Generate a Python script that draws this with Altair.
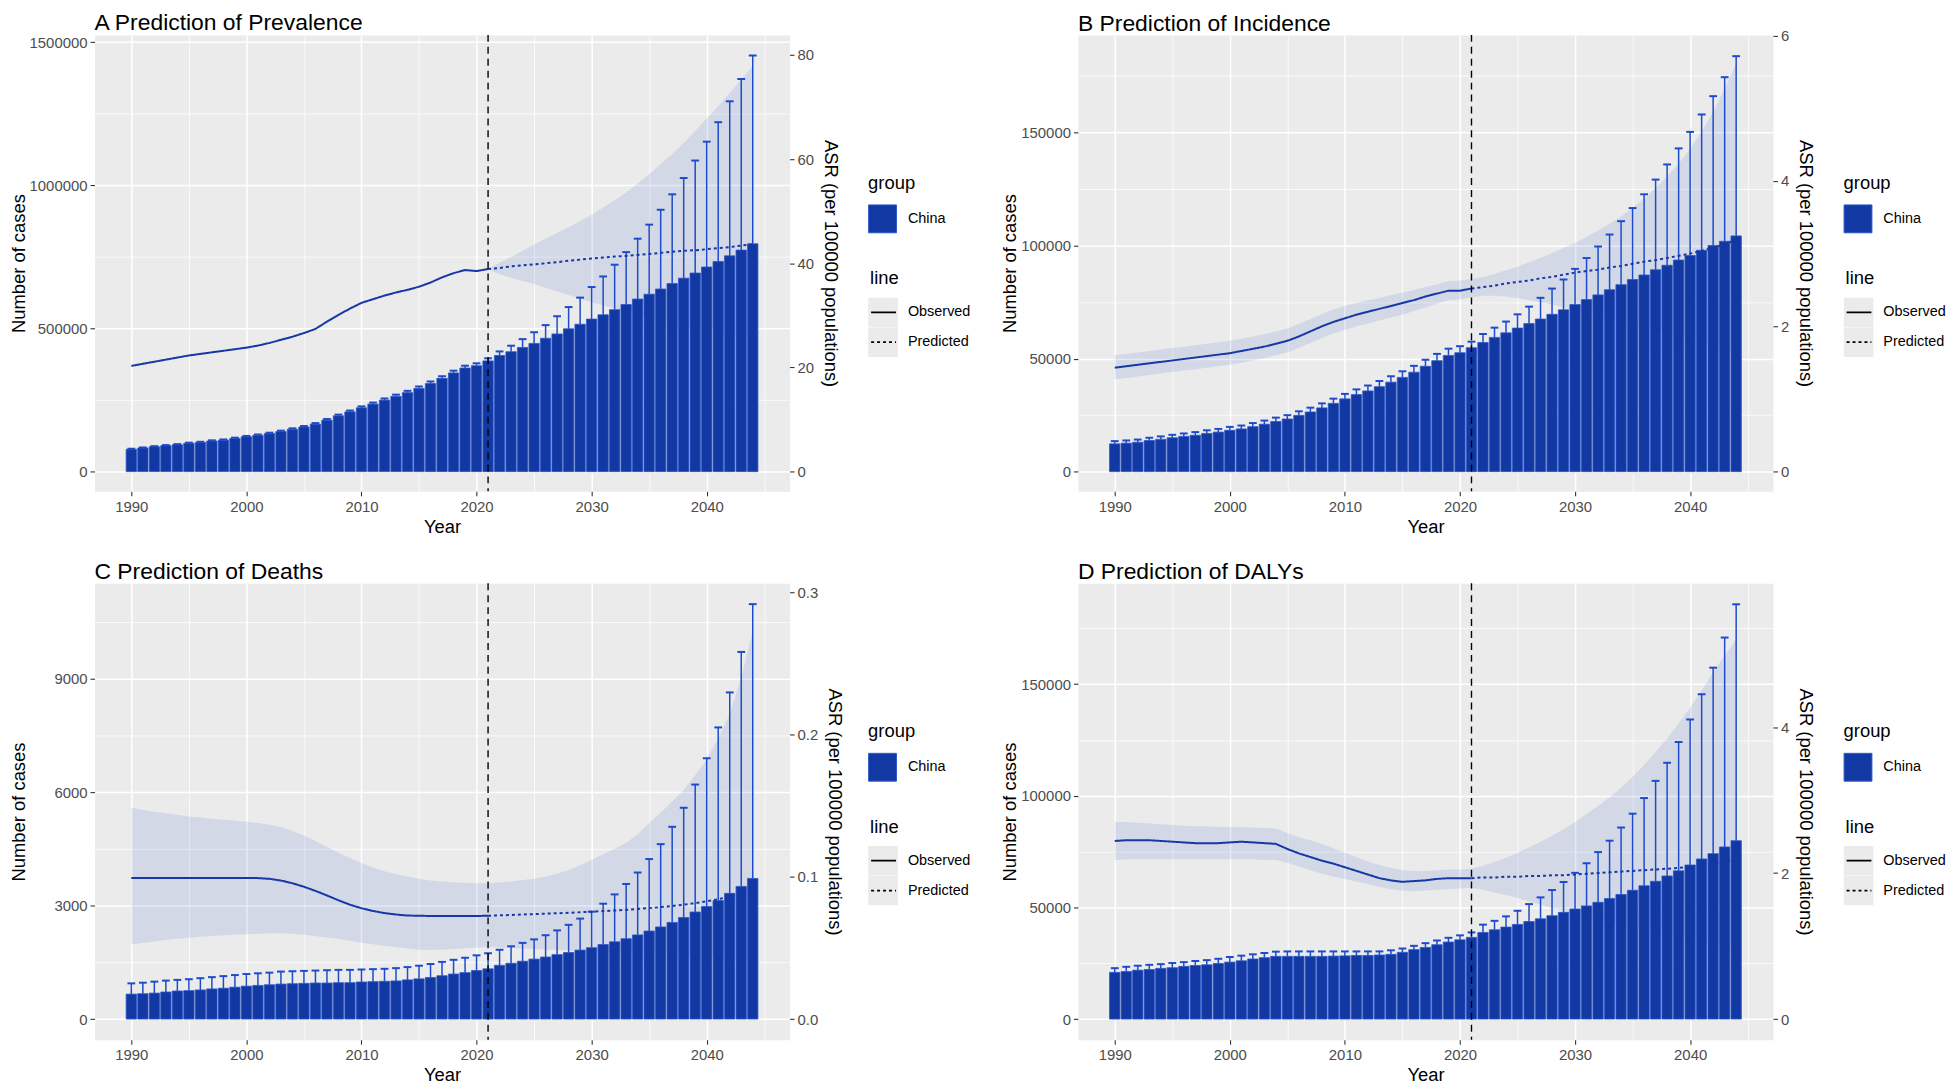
import altair as alt
import pandas as pd

# ---------------- data ----------------
years = list(range(1990, 2045))
obs_years = list(range(1990, 2022))
pred_years = list(range(2021, 2045))
split_year = 2021

# Panel A: Prevalence
A_cases = [78000, 82600, 87000, 90700, 94000, 99000, 102000, 107000, 110000, 116000,
           122000, 127000, 133000, 140000, 148000, 156000, 166000, 180000, 195000, 209000,
           223000, 236000, 250000, 263000, 276000, 291000, 308000, 326000, 345000, 362000,
           370000, 387000, 406000, 419000, 434000, 448000, 466000, 481000, 499000, 515000,
           533000, 548000, 566000, 584000, 603000, 620000, 638000, 657000, 676000, 694000,
           715000, 734000, 754000, 774000, 796000]
A_upper = [80000, 84500, 89000, 92800, 96200, 101200, 104300, 109400, 112500, 118600,
           124700, 129800, 136000, 143200, 151300, 159500, 169700, 184000, 199300, 213600,
           228000, 241300, 255700, 269000, 282300, 297600, 315000, 333400, 352800, 370200,
           378500, 396000, 420000, 440000, 463000, 487000, 512000, 543000, 575000, 608000,
           645000, 682000, 723000, 767000, 814000, 863000, 915000, 969000, 1026000, 1087000,
           1153000, 1221000, 1294000, 1372000, 1454000]
A_obs = [20.3, 20.7, 21.1, 21.5, 21.9, 22.3, 22.6, 22.9, 23.2, 23.5,
         23.8, 24.2, 24.7, 25.3, 25.9, 26.6, 27.4, 28.8, 30.1, 31.3,
         32.4, 33.1, 33.8, 34.4, 34.9, 35.5, 36.3, 37.3, 38.1, 38.7, 38.5, 38.9]
A_pred = [38.9, 39.1, 39.4, 39.6, 39.8, 40.0, 40.2, 40.5, 40.7, 40.9, 41.1, 41.3,
          41.4, 41.6, 41.8, 42.0, 42.2, 42.4, 42.5, 42.7, 42.9, 43.1, 43.4, 43.6]
A_pred_hi = [38.9, 40.1, 41.2, 42.4, 43.6, 44.7, 45.8, 46.9, 48.1, 49.3, 50.7, 52.1,
             53.6, 55.3, 57.1, 59.0, 61.0, 63.1, 65.4, 67.8, 70.2, 72.7, 75.3, 77.9]
A_pred_lo = [38.9, 37.9, 37.2, 36.6, 36.0, 35.3, 34.6, 33.9, 33.2, 32.5, 31.9, 31.3,
             30.7, 30.1, 29.6, 29.1, 28.6, 28.1, 27.6, 27.2, 26.8, 26.4, 26.0, 25.6]

# Panel B: Incidence
B_cases = [12300, 12600, 13000, 13800, 14300, 15000, 15600, 16100, 16900, 17500,
           18300, 18900, 19900, 21000, 22200, 23300, 24900, 26400, 28200, 30200,
           32200, 34100, 35700, 37600, 39600, 41700, 44000, 46600, 49100, 51400,
           52600, 54800, 57100, 59400, 61400, 63500, 65500, 67500, 69600, 71600,
           73900, 76100, 78200, 80500, 82700, 85000, 87000, 89300, 91300, 93600,
           95600, 97900, 100000, 101900, 104300]
B_upper = [13500, 13800, 14200, 15000, 15600, 16300, 16900, 17500, 18300, 18900,
           19800, 20400, 21500, 22600, 23900, 25000, 26700, 28300, 30200, 32300,
           34400, 36400, 38100, 40100, 42200, 44400, 46800, 49500, 52100, 54400,
           55500, 57500, 60900, 63700, 66400, 69600, 73000, 76900, 81000, 85000,
           89700, 94500, 99600, 104900, 110800, 116600, 122700, 129200, 135900, 143000,
           150300, 158000, 166100, 174500, 183800]
B_obs = [1.43, 1.45, 1.47, 1.49, 1.51, 1.53, 1.55, 1.57, 1.59, 1.61,
         1.63, 1.66, 1.69, 1.72, 1.76, 1.80, 1.86, 1.93, 2.00, 2.06,
         2.11, 2.16, 2.20, 2.24, 2.28, 2.32, 2.36, 2.41, 2.45, 2.49, 2.49, 2.52]
B_obs_hi = [1.60, 1.62, 1.64, 1.66, 1.68, 1.70, 1.72, 1.74, 1.76, 1.78,
            1.80, 1.83, 1.86, 1.89, 1.93, 1.97, 2.03, 2.10, 2.17, 2.23,
            2.28, 2.32, 2.36, 2.39, 2.43, 2.46, 2.50, 2.54, 2.58, 2.62, 2.63, 2.65]
B_obs_lo = [1.27, 1.29, 1.31, 1.33, 1.35, 1.37, 1.39, 1.41, 1.43, 1.45,
            1.47, 1.50, 1.53, 1.56, 1.60, 1.64, 1.70, 1.77, 1.84, 1.90,
            1.95, 2.00, 2.04, 2.08, 2.12, 2.16, 2.21, 2.26, 2.31, 2.36, 2.37, 2.40]
B_pred = [2.52, 2.54, 2.56, 2.59, 2.61, 2.63, 2.66, 2.68, 2.71, 2.74, 2.76, 2.78,
          2.81, 2.83, 2.86, 2.89, 2.91, 2.94, 2.97, 3.00, 3.04, 3.08, 3.13, 3.19]
B_pred_hi = [2.65, 2.68, 2.72, 2.77, 2.82, 2.88, 2.94, 3.01, 3.08, 3.15, 3.23, 3.32,
             3.41, 3.51, 3.63, 3.76, 3.90, 4.06, 4.24, 4.44, 4.68, 4.95, 5.27, 5.62]
B_pred_lo = [2.40, 2.42, 2.42, 2.41, 2.39, 2.36, 2.33, 2.30, 2.26, 2.22, 2.18, 2.14,
             2.10, 2.06, 2.02, 1.98, 1.94, 1.90, 1.86, 1.82, 1.78, 1.74, 1.70, 1.66]

# Panel C: Deaths
C_cases = [660, 670, 687, 715, 742, 752, 770, 797, 816, 843,
           871, 889, 907, 926, 935, 944, 953, 953, 962, 962,
           981, 990, 999, 1008, 1036, 1063, 1100, 1146, 1191, 1228,
           1283, 1329, 1421, 1476, 1530, 1586, 1641, 1705, 1760, 1824,
           1888, 1970, 2044, 2126, 2227, 2328, 2438, 2557, 2685, 2832,
           2979, 3134, 3327, 3510, 3721]
C_upper = [944, 962, 990, 1017, 1036, 1054, 1081, 1109, 1136, 1164,
           1191, 1210, 1228, 1256, 1265, 1274, 1283, 1292, 1301, 1301,
           1311, 1320, 1329, 1347, 1375, 1411, 1457, 1512, 1567, 1622,
           1686, 1741, 1833, 1925, 2016, 2108, 2218, 2346, 2493, 2658,
           2841, 3052, 3299, 3574, 3877, 4234, 4628, 5087, 5591, 6205,
           6901, 7717, 8643, 9715, 10980]
C_obs = [0.0991, 0.0991, 0.0991, 0.0991, 0.0991, 0.0991, 0.0991, 0.0991, 0.0991, 0.0991,
         0.0991, 0.0991, 0.0986, 0.0974, 0.0955, 0.0930, 0.0901, 0.0869, 0.0835, 0.0804,
         0.0779, 0.0760, 0.0745, 0.0735, 0.0728, 0.0726, 0.0725, 0.0725, 0.0725, 0.0725,
         0.0725, 0.0726]
C_obs_hi = [0.1485, 0.1470, 0.1458, 0.1447, 0.1436, 0.1425, 0.1417, 0.1409, 0.1402, 0.1395,
            0.1388, 0.1378, 0.1366, 0.1350, 0.1322, 0.1290, 0.1252, 0.1212, 0.1170, 0.1132,
            0.1096, 0.1065, 0.1040, 0.1020, 0.1002, 0.0986, 0.0975, 0.0967, 0.0962, 0.0958,
            0.0955, 0.0954]
C_obs_lo = [0.0524, 0.0535, 0.0545, 0.0555, 0.0564, 0.0572, 0.0578, 0.0584, 0.0589, 0.0593,
            0.0597, 0.0600, 0.0603, 0.0604, 0.0600, 0.0592, 0.0583, 0.0574, 0.0565, 0.0550,
            0.0536, 0.0526, 0.0516, 0.0506, 0.0496, 0.0487, 0.0485, 0.0487, 0.0492, 0.0497,
            0.0502, 0.0506]
C_pred = [0.0726, 0.0729, 0.0732, 0.0735, 0.0738, 0.0741, 0.0744, 0.0747, 0.0751, 0.0755,
          0.0759, 0.0763, 0.0768, 0.0774, 0.0780, 0.0787, 0.0795, 0.0804, 0.0815, 0.0828,
          0.0843, 0.0860, 0.0880, 0.0905]
C_pred_hi = [0.0954, 0.0960, 0.0968, 0.0977, 0.0986, 0.1003, 0.1024, 0.1047, 0.1082, 0.1120,
             0.1158, 0.1198, 0.1240, 0.1300, 0.1376, 0.1450, 0.1530, 0.1610, 0.1715, 0.1826,
             0.1975, 0.2143, 0.2400, 0.2727]
C_pred_lo = [0.0506, 0.0503, 0.0499, 0.0496, 0.0493, 0.0489, 0.0486, 0.0482, 0.0479, 0.0475,
             0.0471, 0.0467, 0.0463, 0.0459, 0.0455, 0.0451, 0.0447, 0.0443, 0.0439, 0.0435,
             0.0431, 0.0427, 0.0423, 0.0419]

# Panel D: DALYs
D_cases = [20900, 21300, 21900, 22200, 22700, 23000, 23600, 24000, 24300, 24900,
           25500, 26100, 26900, 27500, 28100, 28100, 28100, 28100, 28100, 28200,
           28300, 28500, 28500, 28700, 29000, 29900, 31100, 32100, 33300, 34500,
           35500, 36600, 38800, 40000, 41200, 42400, 43700, 44900, 46300, 47800,
           49300, 50700, 52300, 54000, 55800, 57700, 59700, 61700, 64100, 66400,
           69000, 71700, 74100, 77100, 79900]
D_upper = [22800, 23400, 23900, 24300, 24600, 25100, 25500, 26000, 26400, 27000,
           27800, 28400, 29000, 29600, 30200, 30300, 30300, 30300, 30300, 30300,
           30300, 30300, 30300, 30300, 30800, 31600, 32800, 34000, 35200, 36400,
           37500, 38800, 42300, 44000, 46000, 48500, 51500, 54500, 57800, 61400,
           65500, 69800, 74800, 79900, 85800, 92000, 99000, 106700, 114800, 124100,
           134200, 145500, 157400, 170900, 185800]
D_obs = [2.44, 2.45, 2.45, 2.45, 2.44, 2.43, 2.42, 2.41, 2.41, 2.41,
         2.42, 2.43, 2.42, 2.41, 2.40, 2.33, 2.27, 2.22, 2.17, 2.13,
         2.08, 2.03, 1.98, 1.93, 1.90, 1.88, 1.89, 1.90, 1.92, 1.93, 1.93, 1.93]
D_obs_hi = [2.70, 2.70, 2.69, 2.68, 2.67, 2.66, 2.65, 2.64, 2.64, 2.63,
            2.63, 2.63, 2.62, 2.62, 2.61, 2.55, 2.49, 2.45, 2.40, 2.34,
            2.28, 2.22, 2.16, 2.11, 2.07, 2.04, 2.03, 2.03, 2.04, 2.05, 2.05, 2.06]
D_obs_lo = [2.18, 2.19, 2.19, 2.19, 2.19, 2.19, 2.19, 2.19, 2.19, 2.19,
            2.19, 2.19, 2.19, 2.18, 2.18, 2.14, 2.09, 2.04, 1.99, 1.95,
            1.92, 1.88, 1.85, 1.81, 1.78, 1.76, 1.75, 1.76, 1.77, 1.78, 1.79, 1.80]
D_pred = [1.93, 1.94, 1.94, 1.95, 1.95, 1.96, 1.96, 1.97, 1.97, 1.98, 1.99, 2.00,
          2.01, 2.02, 2.03, 2.04, 2.05, 2.06, 2.07, 2.09, 2.11, 2.13, 2.16, 2.19]
D_pred_hi = [2.06, 2.10, 2.15, 2.21, 2.28, 2.35, 2.43, 2.51, 2.60, 2.70, 2.81, 2.92,
             3.04, 3.17, 3.32, 3.48, 3.66, 3.84, 4.05, 4.27, 4.50, 4.75, 4.98, 5.20]
D_pred_lo = [1.80, 1.77, 1.73, 1.70, 1.66, 1.61, 1.57, 1.52, 1.48, 1.44, 1.40, 1.36,
             1.32, 1.28, 1.25, 1.22, 1.19, 1.16, 1.13, 1.10, 1.07, 1.04, 1.01, 0.98]

# axis ticks
X_MAJOR = [1990, 2000, 2010, 2020, 2030, 2040]
X_MINOR = [1995, 2005, 2015, 2025, 2035, 2045]
A_left_major = [0, 500000, 1000000, 1500000]
A_left_minor = [250000, 750000, 1250000]
A_right = [0, 20, 40, 60, 80]
B_left_major = [0, 50000, 100000, 150000]
B_left_minor = [25000, 75000, 125000, 175000]
B_right = [0, 2, 4, 6]
C_left_major = [0, 3000, 6000, 9000]
C_left_minor = [1500, 4500, 7500, 10500]
C_right = [0.0, 0.1, 0.2, 0.3]
D_left_major = [0, 50000, 100000, 150000]
D_left_minor = [25000, 75000, 125000, 175000]
D_right = [0, 2, 4]

# ---------------- style ----------------
FONT = "Liberation Sans"
BAR_FILL = "#1239a3"
BAR_EDGE = "#2c56c9"
ERR = "#1d4bcc"
LINE = "#1737a6"
RIBBON = "#2355c1"
PANEL_BG = "#EBEBEB"
TICK_COL = "#333333"
LAB_COL = "#4D4D4D"
W, H = 699, 459
X_DOMAIN = [1986.8, 2047.2]


def in_list(vals):
    return "indexof([%s], datum.value) >= 0" % ",".join(str(v) for v in vals)


def cond(test, on, off):
    return {"condition": {"test": test, "value": on}, "value": off}


xscale = alt.Scale(domain=X_DOMAIN, nice=False, zero=False)
x_test = "datum.value % 10 === 0"
x_axis = alt.Axis(
    title="Year", values=X_MAJOR + X_MINOR, format="d",
    labelExpr="datum.value % 10 === 0 ? datum.label : ''",
    grid=True, gridColor="white", gridWidth=cond(x_test, 1.5, 0.75),
    tickOpacity=cond(x_test, 1, 0), tickColor=TICK_COL, tickSize=4.5, tickWidth=1.1,
    domain=False, labelOverlap=False, labelFlush=False, labelPadding=3.5,
    labelFontSize=15, labelColor=LAB_COL, titleFontSize=18.5, titlePadding=3,
)


def panel(title, cases, upper, obs, pred, rib_years, rib_lo, rib_hi,
          left_dom, left_major, left_minor, right_dom, right_ticks, right_fmt,
          lx, toff, ltp):
    bars = pd.DataFrame({"year": years, "cases": cases, "upper": upper, "group": "China"})
    line = pd.DataFrame({
        "year": obs_years + pred_years,
        "asr": obs + pred,
        "line": ["Observed"] * len(obs_years) + ["Predicted"] * len(pred_years),
    })
    line["key"] = line["line"].map({"Observed": "o", "Predicted": "p"})
    rib = pd.DataFrame({"year": rib_years, "lo": rib_lo, "hi": rib_hi})
    vl = pd.DataFrame({"year": [split_year]})

    lscale = alt.Scale(domain=left_dom, nice=False, zero=False)
    rscale = alt.Scale(domain=right_dom, nice=False, zero=False)
    ltest = in_list(left_major)
    left_axis = alt.Axis(
        title="Number of cases", orient="left", values=left_major + left_minor, format="d",
        labelExpr=f"{ltest} ? datum.label : ''",
        grid=True, gridColor="white", gridWidth=cond(ltest, 1.5, 0.75),
        tickOpacity=cond(ltest, 1, 0), tickColor=TICK_COL, tickSize=4.5, tickWidth=1.1,
        domain=False, labelOverlap=False, labelFlush=False, labelPadding=3,
        labelFontSize=15, labelColor=LAB_COL, titleFontSize=18.5, titlePadding=ltp,
    )
    right_axis = alt.Axis(
        title="ASR (per 100000 populations)", orient="right", values=right_ticks,
        format=right_fmt, grid=False, tickColor=TICK_COL, tickSize=4.5, tickWidth=1.1,
        domain=False, labelOverlap=False, labelFlush=False, labelPadding=3,
        labelFontSize=15, labelColor=LAB_COL, titleFontSize=18.5, titlePadding=7,
    )

    keys = alt.Chart(line).mark_point(shape="square", filled=True, size=0, strokeWidth=0,
                                      color=PANEL_BG).encode(
        x=alt.X("year:Q", scale=xscale, axis=x_axis),
        y=alt.Y("asr:Q", scale=rscale, axis=None),
        fill=alt.Fill(
            "key:N",
            scale=alt.Scale(domain=["o", "p"], range=[PANEL_BG, PANEL_BG]),
            legend=alt.Legend(orient="none", legendX=lx, legendY=236, title="line",
                              titleOpacity=0, labelOpacity=0, symbolType="square",
                              symbolSize=900, symbolStrokeWidth=0, symbolOpacity=1,
                              clipHeight=30, rowPadding=0, titlePadding=9.5, padding=0),
        ),
    )
    ribbon = alt.Chart(rib).mark_area(color=RIBBON, opacity=0.12).encode(
        x=alt.X("year:Q", scale=xscale, axis=x_axis),
        y=alt.Y("lo:Q", scale=rscale, axis=None),
        y2="hi:Q",
    )
    barl = alt.Chart(bars).mark_bar(stroke=BAR_EDGE, strokeWidth=0.8).transform_calculate(
        x1="datum.year - 0.45", x2="datum.year + 0.45"
    ).encode(
        x=alt.X("x1:Q", scale=xscale, axis=x_axis),
        x2="x2:Q",
        y=alt.Y("cases:Q", scale=lscale, axis=left_axis),
        y2=alt.datum(0),
        color=alt.Color("group:N", scale=alt.Scale(domain=["China"], range=[BAR_FILL]),
                        legend=alt.Legend(orient="none", legendX=lx, legendY=140, title="group",
                                          symbolType="square", symbolSize=784,
                                          symbolStrokeColor=BAR_EDGE, symbolStrokeWidth=1,
                                          titlePadding=12, labelOffset=11, padding=0)),
    )
    stems = alt.Chart(bars).mark_rule(color=ERR, strokeWidth=1.5).encode(
        x=alt.X("year:Q", scale=xscale, axis=x_axis),
        y=alt.Y("cases:Q", scale=lscale, axis=None),
        y2="upper:Q",
    )
    caps = alt.Chart(bars).mark_rule(color=ERR, strokeWidth=2).transform_calculate(
        c1="datum.year - 0.34", c2="datum.year + 0.34"
    ).encode(
        x=alt.X("c1:Q", scale=xscale, axis=x_axis),
        x2="c2:Q",
        y=alt.Y("upper:Q", scale=lscale, axis=None),
    )
    asr = alt.Chart(line).mark_line(color=LINE, strokeWidth=2).encode(
        x=alt.X("year:Q", scale=xscale, axis=x_axis),
        y=alt.Y("asr:Q", scale=rscale, axis=right_axis),
        strokeDash=alt.StrokeDash(
            "line:N",
            scale=alt.Scale(domain=["Observed", "Predicted"], range=[[1, 0], [3, 3]]),
            legend=alt.Legend(orient="none", legendX=lx + 2, legendY=236, title="line",
                              symbolType="stroke", symbolStrokeColor="black",
                              symbolStrokeWidth=1.8, symbolSize=625, clipHeight=30,
                              rowPadding=0, titlePadding=9.5, labelOffset=11, padding=0),
        ),
    )
    vline = alt.Chart(vl).mark_rule(color="black", strokeDash=[7, 5], strokeWidth=1.4).encode(
        x=alt.X("year:Q", scale=xscale, axis=x_axis),
    )
    return alt.layer(keys, ribbon, barl, stems, caps, asr, vline).resolve_scale(
        y="independent"
    ).properties(
        width=W, height=H,
        title=alt.TitleParams(title, anchor="start", frame="group", fontSize=23,
                              font=FONT, fontWeight="normal", color="black", offset=toff),
    )


pA = panel("A Prediction of Prevalence", A_cases, A_upper, A_obs, A_pred,
           pred_years, A_pred_lo, A_pred_hi,
           [-68800, 1526000], A_left_major, A_left_minor, [-3.78, 83.84], A_right, "d",
           778, -1, 1)
pB = panel("B Prediction of Incidence", B_cases, B_upper, B_obs, B_pred,
           obs_years + pred_years[1:], B_obs_lo + B_pred_lo[1:], B_obs_hi + B_pred_hi[1:],
           [-8700, 193200], B_left_major, B_left_minor, [-0.271, 6.01], B_right, "d",
           770, -7, 1)
pC = panel("C Prediction of Deaths", C_cases, C_upper, C_obs, C_pred,
           obs_years + pred_years[1:], C_obs_lo + C_pred_lo[1:], C_obs_hi + C_pred_hi[1:],
           [-547, 11531], C_left_major, C_left_minor, [-0.01453, 0.3064], C_right, ".1f",
           778, -1, 26)
pD = panel("D Prediction of DALYs", D_cases, D_upper, D_obs, D_pred,
           obs_years + pred_years[1:], D_obs_lo + D_pred_lo[1:], D_obs_hi + D_pred_hi[1:],
           [-9250, 195200], D_left_major, D_left_minor, [-0.283, 5.97], D_right, "d",
           770, -1, 1)

chart = alt.concat(
    pA, pB, pC, pD, columns=2, spacing={"row": 92.5, "column": 290}, bounds="flush"
).resolve_scale(
    color="independent", fill="independent", strokeDash="independent"
).properties(
    padding={"left": 0, "top": 0, "right": 0, "bottom": 0}
).configure(
    font=FONT
).configure_view(
    fill=PANEL_BG, stroke="transparent"
).configure_axis(
    labelFont=FONT, titleFont=FONT, titleFontWeight="normal", titleColor="black"
).configure_legend(
    labelFont=FONT, titleFont=FONT, labelFontSize=14.5, titleFontSize=18.5,
    titleFontWeight="normal", titleColor="black", labelColor="black"
)

chart.save("out.html", embed_options={"renderer": "svg", "actions": False})
